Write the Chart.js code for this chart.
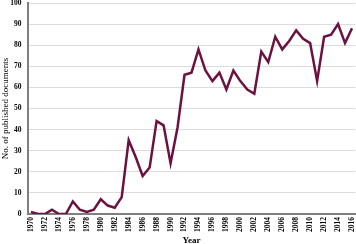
<!DOCTYPE html>
<html>
<head>
<meta charset="utf-8">
<script src="https://cdn.jsdelivr.net/npm/chart.js@4.4.1/dist/chart.umd.min.js"></script>
<style>
  html, body { margin: 0; padding: 0; background: #fff; }
  #wrap { width: 356px; height: 244px; }
</style>
</head>
<body>
<div id="wrap"><canvas id="chart"></canvas></div>
<script>
// 年別の文献数
const years = [];
for (let y = 1970; y <= 2016; y++) years.push(String(y));

const docs = [
  1, 0, 0, 2, 0, 0, 6, 2, 1, 2,
  7, 4, 3, 8, 35, 27, 18, 22, 44, 42,
  24, 41, 66, 67, 78, 68, 63, 67, 59, 68,
  63, 59, 57, 77, 72, 84, 78, 82, 87, 83,
  81, 63, 84, 85, 90, 81, 88
];

const yTicks = [0, 10, 20, 30, 40, 50, 60, 70, 80, 90, 100];

const serif = "'Liberation Serif', 'DejaVu Serif', serif";

// 端のラベル用の余白を消す
const noEdgePad = s => { s.paddingTop = 0; s.paddingRight = 0; s.paddingLeft = 0; s.paddingBottom = 0; };

new Chart(document.getElementById('chart'), {
  type: 'line',
  data: {
    labels: years,
    datasets: [{
      data: docs,
      borderColor: '#6b1240',
      borderWidth: 2.5,
      pointRadius: 0,
      tension: 0,
      fill: false
    }]
  },
  options: {
    responsive: true,
    maintainAspectRatio: false,
    animation: false,
    layout: { padding: { top: 3, right: 0.5, left: 0, bottom: -1.8 } },
    plugins: {
      legend: { display: false },
      tooltip: { enabled: false }
    },
    scales: {
      x: {
        offset: true,
        afterFit: noEdgePad,
        grid: { display: false, drawTicks: false },
        border: { color: '#7f7f7f', width: 2 },
        ticks: {
          autoSkip: false,
          maxRotation: 90,
          minRotation: 90,
          padding: 3,
          color: '#000',
          font: { family: serif, size: 7.5, weight: 'bold' },
          callback: function(v, i) { return i % 2 === 0 ? years[i] : ''; }
        },
        title: {
          display: true,
          text: 'Year',
          color: '#000',
          padding: { top: 0, bottom: 0 },
          font: { family: serif, size: 9, weight: 'bold' }
        }
      },
      y: {
        min: 0,
        max: 100,
        afterBuildTicks: axis => { axis.ticks = yTicks.map(v => ({ value: v })); },
        afterFit: s => { noEdgePad(s); s.width = 27.5; },
        grid: { color: '#dcdcdc', lineWidth: 1, drawTicks: false },
        border: { color: '#7f7f7f', width: 2 },
        ticks: {
          padding: 6,
          color: '#000',
          font: { family: serif, size: 7.5, weight: 'bold' }
        },
        title: {
          display: true,
          text: 'No. of published documents',
          color: '#000',
          padding: { top: 0, bottom: 1 },
          font: { family: serif, size: 9 }
        }
      }
    }
  }
});
</script>
</body>
</html>
